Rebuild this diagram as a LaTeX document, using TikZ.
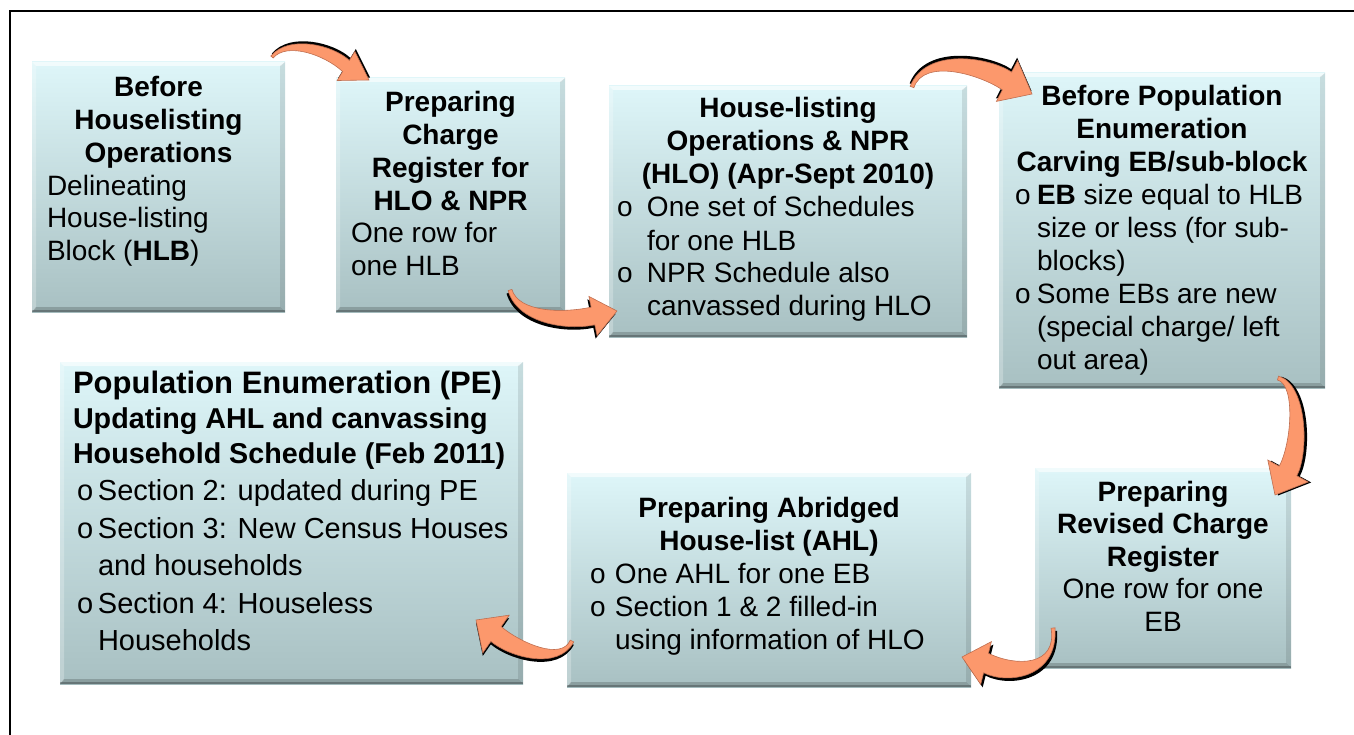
\documentclass[tikz,border=0pt]{standalone}
\usepackage{fontspec}
\setmainfont{Liberation Sans}
\usetikzlibrary{calc}
\setlength\parindent{0pt}
\definecolor{boxtop}{RGB}{222,246,249}
\definecolor{boxbot}{RGB}{168,192,194}
\definecolor{arrfill}{RGB}{252,152,108}
\definecolor{arredge}{RGB}{190,110,80}
\newlength\bind
\newcommand\bul{o}
\newcommand\Tl[1]{\hbox to \hsize{\hss\strut\bfseries #1\hss}}
\newcommand\Cn[1]{\hbox to \hsize{\hss\strut #1\hss}}
\newcommand\Ll[1]{\hbox{\strut #1}}
\newcommand\Bl[1]{\hbox{\strut\makebox[\bind][l]{\bul}#1}}
\newcommand\Kl[1]{\hbox{\strut\hspace*{\bind}#1}}
\newcommand\carrow[9]{%
  \pgfmathsetmacro\cwa{0.5*(#6+#8)}%
  \coordinate (Ho) at ($(#4)!#6pt!90:(#5)$);
  \coordinate (Hi) at ($(#4)!#6pt!-90:(#5)$);
  \coordinate (Ao) at ($(#4)!#7pt!90:(#5)$);
  \coordinate (Ai) at ($(#4)!#7pt!-90:(#5)$);
  \coordinate (To) at ($(#1)!#8pt!90:(#2)$);
  \coordinate (Ti) at ($(#1)!#8pt!-90:(#2)$);
  \coordinate (C1o) at ($(#2)!\cwa pt!90:(#3)$);
  \coordinate (C1i) at ($(#2)!\cwa pt!-90:(#3)$);
  \coordinate (C2o) at ($(#3)!#6pt!90:(#4)$);
  \coordinate (C2i) at ($(#3)!#6pt!-90:(#4)$);
  \fill[black, transform canvas={#9}] (To) .. controls (C1o) and (C2o) .. (Ho) -- (Ao) -- (#5) -- (Ai) -- (Hi) .. controls (C2i) and (C1i) .. (Ti) -- cycle;
  \filldraw[fill=arrfill, draw=arredge, line width=0.6pt] (To) .. controls (C1o) and (C2o) .. (Ho) -- (Ao) -- (#5) -- (Ai) -- (Hi) .. controls (C2i) and (C1i) .. (Ti) -- cycle;
}
\begin{document}
\begin{tikzpicture}[x=1pt,y=-1pt,
  pbox/.style={inner sep=0pt, outer sep=0pt, top color=boxtop, bottom color=boxbot,
    path picture={
      \path (path picture bounding box.north west) coordinate (pnw)
            (path picture bounding box.north east) coordinate (pne)
            (path picture bounding box.south west) coordinate (psw)
            (path picture bounding box.south east) coordinate (pse);
      \fill[white,opacity=.6] (pnw) -- (pne) -- ([shift={(-4pt,-4pt)}]pne) -- ([shift={(4pt,-4pt)}]pnw) -- cycle;
      \fill[white,opacity=.25] (pnw) -- ([shift={(4pt,-4pt)}]pnw) -- ([shift={(4pt,4pt)}]psw) -- (psw) -- cycle;
      \fill[black,opacity=.10] (pne) -- (pse) -- ([shift={(-5pt,5pt)}]pse) -- ([shift={(-5pt,-4pt)}]pne) -- cycle;
      \fill[black,opacity=.18] (psw) -- (pse) -- ([shift={(-5pt,5pt)}]pse) -- ([shift={(4pt,5pt)}]psw) -- cycle;
      \fill[black,opacity=.25] (psw) rectangle ([shift={(0pt,2.5pt)}]pse);
    }},
  tx/.style={inner sep=0pt, outer sep=0pt, anchor=north west, font=\fontsize{28}{32.7}\selectfont}
]
\useasboundingbox (0,0) rectangle (1354,735);
% frame
\draw[line width=2pt] (10,735) -- (10,11) -- (1354,11);
% boxes
\node[pbox, minimum width=253pt, minimum height=250pt] (b1) at (158.5,187) {};
\node[pbox, minimum width=229pt, minimum height=234pt] (b2) at (450.5,195) {};
\node[pbox, minimum width=358pt, minimum height=251pt] (b3) at (788,211.5) {};
\node[pbox, minimum width=326pt, minimum height=315pt] (b4) at (1162,230.5) {};
\node[pbox, minimum width=256pt, minimum height=200pt] (b5) at (1163,568) {};
\node[pbox, minimum width=404pt, minimum height=214pt] (b6) at (769,580) {};
\node[pbox, minimum width=463pt, minimum height=322pt] (b7) at (291.5,523) {};
% texts
\node[tx] (t1) at (47,74.1) {\vbox{\hsize=223pt
  \Tl{Before}\Tl{Houselisting}\Tl{Operations}
  \Ll{Delineating}\Ll{House-listing}\Ll{Block (\textbf{HLB})}}};
\node[tx] (t2) at (351,89.1) {\vbox{\hsize=199pt
  \Tl{Preparing}\Tl{Charge}\Tl{Register for}\Tl{HLO \& NPR}
  \Ll{One row for}\Ll{one HLB}}};
\node[tx, font=\fontsize{28}{33}\selectfont] (t3) at (617,94.9) {\vbox{\hsize=342pt \setlength\bind{30pt}
  \Tl{House-listing}\Tl{Operations \& NPR}\Tl{(HLO) (Apr-Sept 2010)}
  \Bl{One set of Schedules}\Kl{for one HLB}
  \Bl{NPR Schedule also}\Kl{canvassed during HLO}}};
\node[tx, font=\fontsize{28}{33}\selectfont] (t4) at (1015,81.9) {\vbox{\hsize=294pt \setlength\bind{22pt}
  \Tl{Before Population}\Tl{Enumeration}\Tl{Carving EB/sub-block}
  \Bl{\textbf{EB} size equal to HLB}\Kl{size or less (for sub-}\Kl{blocks)}
  \Bl{Some EBs are new}\Kl{(special charge/ left}\Kl{out area)}}};
\node[tx, font=\fontsize{28}{32.5}\selectfont] (t5) at (1043,478.25) {\vbox{\hsize=240pt
  \Tl{Preparing}\Tl{Revised Charge}\Tl{Register}
  \Cn{One row for one}\Cn{EB}}};
\node[tx, font=\fontsize{28}{33}\selectfont] (t6) at (590,493.9) {\vbox{\hsize=358pt \setlength\bind{25pt}
  \Tl{Preparing Abridged}\Tl{House-list (AHL)}
  \Bl{One AHL for one EB}
  \Bl{Section 1 \& 2 filled-in}\Kl{using information of HLO}}};
\node[tx, font=\fontsize{31}{35}\selectfont] (t7) at (77,368.5) {\vbox{\hsize=440pt
  \Ll{\hspace*{-4pt}\bfseries Population Enumeration (PE)}
  \fontsize{28.7}{34.5}\selectfont
  \Ll{\hspace*{-4pt}\bfseries Updating AHL and canvassing}
  \Ll{\hspace*{-4pt}\bfseries Household Schedule (Feb 2011)}
  \fontsize{29}{37.5}\selectfont \setlength\bind{21pt}
  \Bl{Section 2: updated during PE}
  \Bl{Section 3: New Census Houses}\Kl{and households}
  \Bl{Section 4: Houseless}\Kl{Households}}};
% arrows
\coordinate (a1t) at (272,57);   \coordinate (a1a) at (288,38);  \coordinate (a1b) at (329,50);  \coordinate (a1h) at (346,66);  \coordinate (a1p) at (369,80);
\coordinate (a2t) at (912,87);   \coordinate (a2a) at (925,52);  \coordinate (a2b) at (985,66);  \coordinate (a2h) at (1007,81); \coordinate (a2p) at (1032,94);
\coordinate (a3t) at (510,290);  \coordinate (a3a) at (518,318); \coordinate (a3b) at (565,322); \coordinate (a3h) at (593,316); \coordinate (a3p) at (617,311);
\coordinate (a4t) at (1278,378); \coordinate (a4a) at (1302,385);\coordinate (a4b) at (1300,449);\coordinate (a4h) at (1288,471);\coordinate (a4p) at (1275,495);
\coordinate (a5t) at (1053,628); \coordinate (a5a) at (1058,672);\coordinate (a5b) at (1012,676);\coordinate (a5h) at (986,663); \coordinate (a5p) at (962,657);
\coordinate (a6t) at (572,641);  \coordinate (a6a) at (560,666); \coordinate (a6b) at (515,650); \coordinate (a6h) at (496,634); \coordinate (a6p) at (476,620);
\carrow{a1t}{a1a}{a1b}{a1h}{a1p}{6.5}{17}{1.5}{xshift=1pt,yshift=2.5pt}
\carrow{a2t}{a2a}{a2b}{a2h}{a2p}{10}{23}{2}{xshift=-0.5pt,yshift=3pt}
\carrow{a3t}{a3a}{a3b}{a3h}{a3p}{9}{20}{2}{xshift=-1.5pt,yshift=-3pt}
\carrow{a4t}{a4a}{a4b}{a4h}{a4p}{10}{23}{2}{xshift=3pt,yshift=-0.5pt}
\carrow{a5t}{a5a}{a5b}{a5h}{a5p}{10}{22}{2}{xshift=2pt,yshift=-3pt}
\carrow{a6t}{a6a}{a6b}{a6h}{a6p}{9}{23}{2}{xshift=0pt,yshift=-3pt}
\end{tikzpicture}
\end{document}
